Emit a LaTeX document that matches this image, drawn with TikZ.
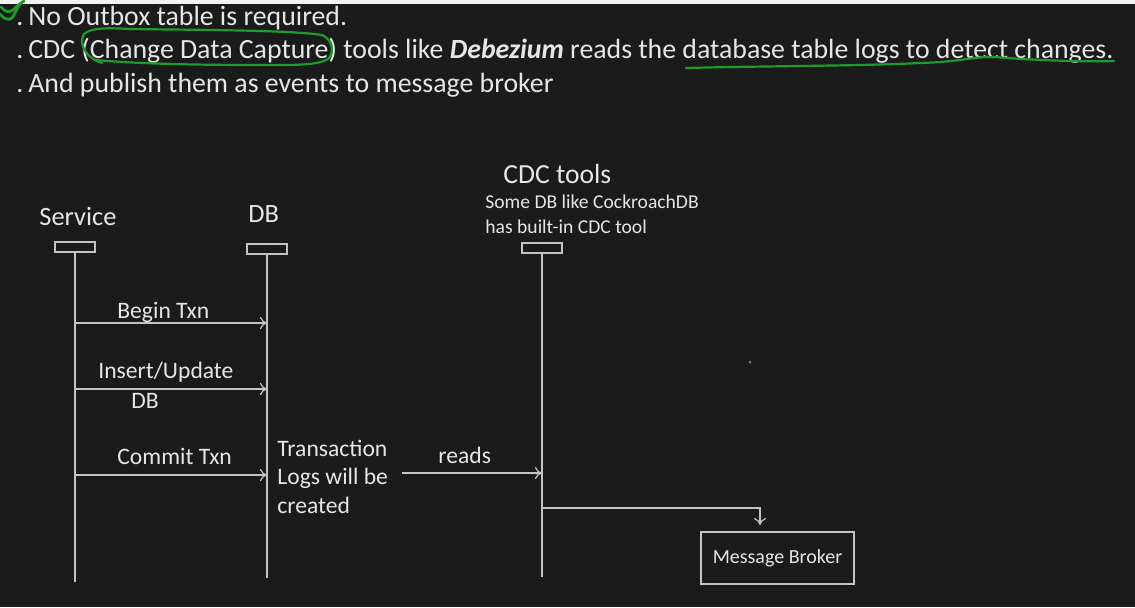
\documentclass[tikz,border=0pt]{standalone}
\usepackage{fontspec}
\setmainfont{Carlito}
\usetikzlibrary{arrows.meta,positioning}
\definecolor{slidebg}{HTML}{1B1B1B}
\definecolor{inktext}{HTML}{E6E6E6}
\definecolor{inkline}{HTML}{C4C4C4}
\definecolor{pengreen}{HTML}{1F9B2C}

\begin{document}
\begin{tikzpicture}[x=0.5pt,y=-0.5pt,
		lbl/.style={text=inktext,inner sep=0pt,anchor=base west},
		bullet/.style={lbl,font=\fontsize{13.9}{16}\selectfont},
		small/.style={lbl,font=\fontsize{11.8}{14.3}\selectfont},
		headbox/.style={draw=inkline,line width=0.8pt,minimum width=20pt,minimum height=5pt,inner sep=0pt},
		life/.style={draw=inkline,line width=0.6pt},
		msg/.style={draw=inkline,line width=0.6pt,-{To[length=3.5pt,width=6pt]}},
		pen/.style={draw=pengreen,line width=1.1pt,line cap=round}]
	\useasboundingbox (0,0) rectangle (1135,607);
	\fill[slidebg] (0,0) rectangle (1135,607);
	\fill[white!90!gray] (0,0) rectangle (1135,4);
	% bullet text
	\node[bullet] (dot1) at (16,25) {.};
	\node[bullet] (dot2) at (16,58) {.};
	\node[bullet] (dot3) at (16,92) {.};
	\node[bullet] (line1) at (28,25) {No Outbox table is required.};
	\node[bullet] (line2) at (28,58) {CDC (Change Data Capture) tools like \textbf{\textit{Debezium}} reads the database table logs to detect changes.};
	\node[bullet] (line3) at (28,92) {And publish them as events to message broker};
	% pen marks
	\draw[pen,line width=1.4pt] (0,14) .. controls (4,19) and (9,21) .. (12,18) .. controls (15,14) and (17,8) .. (20,4);
	\draw[pen,line width=1.4pt] (1,7) .. controls (5,12) and (9,13) .. (13,10) .. controls (16,7) and (19,4) .. (24,1);
	\draw[pen] (102,63) .. controls (86,58) and (78,44) .. (84,34) .. controls (92,27) and (110,28) .. (130,29) .. controls (200,30) and (290,30) .. (322,35) .. controls (333,40) and (334,52) .. (329,58) .. controls (320,66) and (290,65) .. (260,65) .. controls (200,65) and (140,64) .. (96,60);
	\draw[pen] (686,68) .. controls (760,66) and (860,66) .. (920,63) .. controls (960,62) and (975,56) .. (995,57) .. controls (1030,60) and (1080,62) .. (1114,61);
	\fill[pengreen!60!gray] (750,362) circle (1.5);
	% participants
	\node[lbl,font=\fontsize{13.2}{15}\selectfont] (svclbl) at (39,225) {Service};
	\node[lbl,font=\fontsize{13.2}{15}\selectfont] (dblbl) at (248,222) {DB};
	\node[lbl,font=\fontsize{13.8}{15}\selectfont] (cdclbl) at (503,183) {CDC tools};
	\node[lbl,font=\fontsize{9.8}{11}\selectfont] (cdcnote1) at (485,208) {Some DB like CockroachDB};
	\node[lbl,font=\fontsize{9.8}{11}\selectfont] (cdcnote2) at (485,233) {has built-in CDC tool};
	\node[headbox] (svcbox) at (75,247) {};
	\node[headbox] (dbbox) at (267,249) {};
	\node[headbox] (cdcbox) at (542,248) {};
	\coordinate (svcend) at (svcbox.south |- 0,582);
	\coordinate (dbend) at (dbbox.south |- 0,578);
	\coordinate (cdcend) at (cdcbox.south |- 0,577);
	\draw[life] (svcbox.south) -- (svcend);
	\draw[life] (dbbox.south) -- (dbend);
	\draw[life] (cdcbox.south) -- (cdcend);
	% messages
	\coordinate (beginfrom) at (svcbox.south |- 0,323);
	\coordinate (beginto) at (dbbox.south |- 0,323);
	\coordinate (insfrom) at (svcbox.south |- 0,389);
	\coordinate (insto) at (dbbox.south |- 0,389);
	\coordinate (comfrom) at (svcbox.south |- 0,475);
	\coordinate (comto) at (dbbox.south |- 0,475);
	\draw[msg] (beginfrom) -- (beginto);
	\draw[msg] (insfrom) -- (insto);
	\draw[msg] (comfrom) -- (comto);
	\node[small] (beginlbl) at (117,318) {Begin Txn};
	\node[small] (inslbl) at (98,378) {Insert/Update};
	\node[small] (inslbl2) at (131,408) {DB};
	\node[small] (comlbl) at (117,464) {Commit Txn};
	\node[small] (txlogs1) at (277,456) {Transaction};
	\node[small] (txlogs2) at (277,484) {Logs will be};
	\node[small] (txlogs3) at (277,513) {created};
	\coordinate (readsfrom) at (402,473);
	\coordinate (readsto) at (cdcbox.south |- 0,473);
	\draw[msg] (readsfrom) -- (readsto);
	\node[small] (readslbl) at (438,463) {reads};
	% broker
	\node[draw=inkline,line width=0.8pt,minimum width=76.5pt,minimum height=26pt,inner sep=0pt,text=inktext,font=\fontsize{10}{12}\selectfont] (broker) at (777.5,558) {Message Broker};
	\coordinate (pubfrom) at (cdcbox.south |- 0,508);
	\coordinate (pubto) at (760,525);
	\draw[msg] (pubfrom) -| (pubto);
\end{tikzpicture}
\end{document}
